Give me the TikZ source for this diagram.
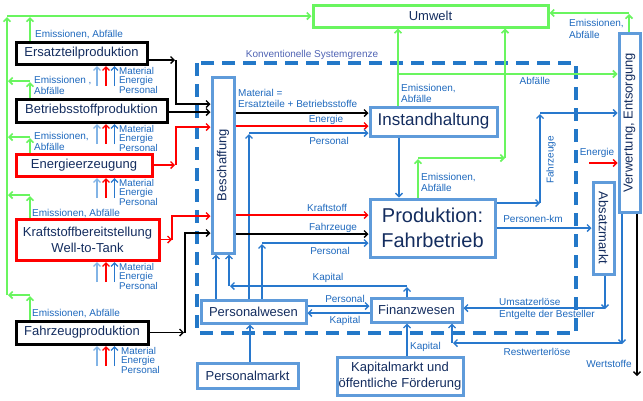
\documentclass[tikz,border=0pt]{standalone}
\usepackage{fontspec}
\setmainfont{Liberation Sans}
\usetikzlibrary{arrows.meta}
\definecolor{grn}{RGB}{105,245,95}
\definecolor{ablue}{RGB}{40,120,205}
\definecolor{bblue}{RGB}{95,155,218}
\definecolor{navy}{RGB}{20,45,95}
\definecolor{tblue}{RGB}{30,105,190}
\definecolor{sblue}{RGB}{130,180,230}
\definecolor{dblue}{RGB}{35,120,200}
\definecolor{gblue}{RGB}{80,100,180}
\newcommand\mepTriple[3]{%
  \draw[sln,draw=sblue] (97,#2+22) -- (97,#2+2);
  \draw[sln,draw=red] (106,#2+22) -- (106,#2+2);
  \draw[sln,draw=ablue] (114.5,#2+22) -- (114.5,#2+2);
  \node[lbl,anchor=north west,font=\fontsize{9.8}{9}\selectfont] (#1) at (#3,#2+3.5) {Material\\Energie\\Personal};
}
\begin{document}
\begin{tikzpicture}[x=1pt,y=-1pt,
  box/.style={draw, line width=3pt, text=navy, inner sep=0pt,
    font=\fontsize{13}{16}\selectfont, align=center},
  bbox/.style={box, draw=black},
  rbox/.style={box, draw=red},
  ubox/.style={box, draw=bblue},
  gbox/.style={box, draw=grn},
  btxt/.style={text=navy, inner sep=0pt, font=\fontsize{13}{16}\selectfont},
  lbl/.style={text=tblue, inner sep=0pt, align=left, font=\fontsize{10}{11.5}\selectfont},
  tip/.style={-{Straight Barb[length=3.5pt,width=7pt]}},
  sln/.style={line width=1.3pt, tip},
  bk/.style={line width=1.4pt, draw=black, tip},
  rd/.style={line width=1.4pt, draw=red, tip},
  bl/.style={line width=1.4pt, draw=ablue, tip},
  gln/.style={line width=1.6pt, draw=grn, tip},
  bound/.style={draw=dblue, line width=3.6pt, dash pattern=on 13pt off 8pt}
]
\useasboundingbox[fill=white] (0,0) rectangle (643,400);

% system boundary
\draw[bound] (197,63) rectangle (576,333);
\node[lbl, text=gblue, font=\fontsize{10}{12}\selectfont] (sysg) at (312,55) {Konventionelle Systemgrenze};

% left column boxes
\node[bbox, minimum width=131, minimum height=22] (ers) at (81.5,53) {Ersatzteilproduktion};
\node[bbox, minimum width=151, minimum height=23] (betr) at (91.5,110.5) {Betriebsstoffproduktion};
\node[rbox, minimum width=136, minimum height=22] (ene) at (84,165) {Energieerzeugung};
\node[rbox, minimum width=143, minimum height=41] (kra) at (87.5,239.5) {Kraftstoffbereitstellung\\Well-to-Tank};
\node[bbox, minimum width=132, minimum height=23] (fzp) at (82,332.5) {Fahrzeugproduktion};

% other boxes
\node[gbox, minimum width=235, minimum height=22] (umw) at (430.5,16) {Umwelt};
\node[ubox, minimum width=22, minimum height=176] (bes) at (223,165) {};
\node[btxt, rotate=90] (bestxt) at (bes.center) {Beschaffung};
\node[ubox, minimum width=127, minimum height=29, font=\fontsize{17}{20}\selectfont] (ins) at (433.5,121.5) {Instandhaltung};
\node[ubox, minimum width=125, minimum height=58, font=\fontsize{20}{25}\selectfont] (prod) at (432.5,228) {Produktion:\\Fahrbetrieb};
\node[ubox, minimum width=105, minimum height=23] (pw) at (253.5,311.5) {Personalwesen};
\node[ubox, minimum width=91, minimum height=24] (fin) at (416.5,310) {Finanzwesen};
\node[ubox, minimum width=101, minimum height=25] (pm) at (247.5,375.5) {Personalmarkt};
\node[ubox, minimum width=126, minimum height=38] (km) at (400,376) {Kapitalmarkt und\\öffentliche Förderung};
\node[ubox, minimum width=21, minimum height=92] (abs) at (603.5,228) {};
\node[btxt, rotate=-90] (abstxt) at (abs.center) {Absatzmarkt};
\node[ubox, minimum width=21, minimum height=179] (ver) at (629.5,122.5) {};
\node[btxt, rotate=90] (vertxt) at (ver.center) {Verwertung, Entsorgung};

% green emissions network (left)
\draw[gln] (7,295) -- (7,17);
\draw[gln] (7,16) -- (umw.west |- 0,16);
\draw[gln] (ers.north -| 30,0) -- (30,17);
\draw[gln] (betr.north -| 30,0) -- (30,82);
\draw[gln] (30,81) -- (8,81);
\draw[gln] (ene.north -| 30,0) -- (30,138);
\draw[gln] (30,137) -- (8,137);
\draw[gln] (kra.north -| 30,0) -- (30,196);
\draw[gln] (30,195) -- (8,195);
\draw[gln] (fzp.north -| 30,0) -- (30,296);
\draw[gln] (30,295) -- (8,295);

\node[lbl, anchor=west] (e1) at (35,35) {Emissionen, Abfälle};
\node[lbl, anchor=west] (e2) at (34,85.5) {Emissionen ,\\Abfälle};
\node[lbl, anchor=west] (e3) at (34,141.5) {Emissionen,\\Abfälle};
\node[lbl, anchor=west] (e4) at (32,214) {Emissionen, Abfälle};
\node[lbl, anchor=west] (e5) at (32,314) {Emissionen, Abfälle};

% input triples
\mepTriple{m1}{64}{119}
\mepTriple{m2}{122}{119}
\mepTriple{m3}{176}{119}
\mepTriple{m4}{260}{119}
\mepTriple{m5}{344}{121}

% supply connectors into Beschaffung
\draw[bk] (ers.east |- 0,60) -- (175,60);
\draw[bk] (176,60) -- (176,104) -- (bes.west |- 0,104);
\draw[bk] (betr.east |- 0,112) -- (bes.west |- 0,112);
\draw[rd] (ene.east) -- (175,165);
\draw[rd] (176,165) -- (176,127) -- (bes.west |- 0,127);
\draw[rd] (kra.east) -- (172,239.5);
\draw[rd] (172,239.5) -- (172,216) -- (bes.west |- 0,216);
\draw[bk] (fzp.east) -- (184,332.5);
\draw[bk] (185,332.5) -- (185,233) -- (bes.west |- 0,233);

% Beschaffung -> Instandhaltung
\draw[bk] (bes.east |- 0,113) -- (ins.west |- 0,113);
\node[lbl, anchor=west] (lmat) at (238,98.5) {Material =\\Ersatzteile + Betriebsstoffe};
\draw[rd] (bes.east |- 0,126) -- (ins.west |- 0,126);
\node[lbl] (lene) at (326,120) {Energie};
\draw[bl] (pw.north -| 249,0) -- (249,134);
\draw[bl] (249,133) -- (ins.west |- 0,133);
\node[lbl] (lpers1) at (329,140.5) {Personal};

% Beschaffung -> Produktion
\draw[rd] (bes.east |- 0,215) -- (prod.west |- 0,215);
\node[lbl] (lkraft) at (327,208) {Kraftstoff};
\draw[bl] (pw.north -| 262,0) -- (262,244);
\draw[bk] (bes.east |- 0,234) -- (prod.west |- 0,234);
\node[lbl] (lfz) at (333,227.5) {Fahrzeuge};
\draw[bl] (262,243) -- (prod.west |- 0,243);
\node[lbl] (lpers2) at (330,251) {Personal};

% Personalwesen / Finanzwesen -> Beschaffung
\draw[bl] (pw.north -| 216,0) -- (bes.south -| 216,0);
\draw[bl] (fin.north -| 407,0) -- (407,287);
\draw[bl] (407,286) -- (230,286);
\draw[bl] (229,286) -- (bes.south -| 229,0);
\node[lbl] (lkap1) at (328,278) {Kapital};

% Personalwesen <-> Finanzwesen
\draw[bl] (pw.east |- 0,306) -- (fin.west |- 0,306);
\node[lbl] (lpers3) at (345,299) {Personal};
\draw[bl] (fin.west |- 0,313) -- (pw.east |- 0,313);
\node[lbl] (lkap2) at (345,321) {Kapital};

% markets
\draw[bl] (pm.north -| 250,0) -- (pw.south -| 250,0);
\draw[bl] (km.north -| 407,0) -- (fin.south -| 407,0);
\node[lbl, anchor=west] (lkap3) at (410,347) {Kapital};

% Instandhaltung -> Produktion
\draw[bl] (ins.south -| 399,0) -- (prod.north -| 399,0);

% green right part
\draw[gln] (ins.north -| 398,0) -- (umw.south -| 398,0);
\draw[gln] (398,74) -- (ver.west |- 0,74);
\node[lbl, anchor=west] (e6) at (401,93.5) {Emissionen,\\Abfälle};
\node[lbl] (labf) at (535,81) {Abfälle};
\draw[gln] (prod.north -| 418,0) -- (418,159);
\draw[gln] (418,158) -- (505,158);
\draw[gln] (505,158) -- (umw.south -| 505,0);
\node[lbl, anchor=west] (e7) at (421,182.5) {Emissionen,\\Abfälle};
\draw[gln] (ver.north -| 629,0) -- (629,14);
\draw[gln] (629,13) -- (umw.east |- 0,13);
\node[lbl, anchor=west] (e8) at (569,29) {Emissionen,\\Abfälle};

% Produktion outputs
\draw[bl] (prod.east |- 0,203) -- (540,203);
\draw[bl] (540,203) -- (540,114);
\draw[bl] (540,113) -- (ver.west |- 0,113);
\node[lbl, rotate=90] (lfz2) at (551,160) {Fahrzeuge};
\draw[bl] (prod.east |- 0,228) -- (abs.west |- 0,228);
\node[lbl] (lpkm) at (533,219) {Personen-km};
\draw[rd] (589,163) -- (ver.west |- 0,163);
\node[lbl] (lene2) at (597,153) {Energie};

% revenues
\draw[bl] (abs.south -| 605,0) -- (605,309);
\draw[bl] (605,308) -- (fin.east |- 0,308);
\node[lbl, anchor=west] (lums) at (499,309) {Umsatzerlöse\\Entgelte der Besteller};
\draw[bl] (ver.south -| 622,0) -- (622,344);
\draw[bl] (622,343) -- (453,343);
\draw[bl] (452,343) -- (fin.south -| 452,0);
\node[lbl] (lrest) at (537,352) {Restwerterlöse};
\draw[bk] (ver.south -| 637,0) -- (637,376);
\node[lbl] (lwert) at (609,364) {Wertstoffe};
\end{tikzpicture}
\end{document}
